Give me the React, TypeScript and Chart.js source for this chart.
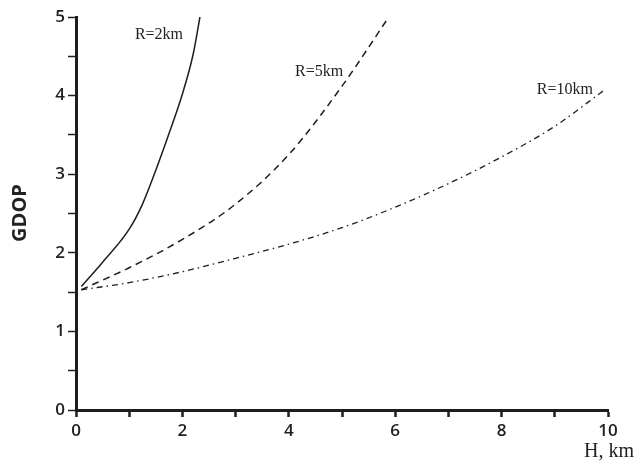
import React, { useEffect, useRef } from "react";
import { Chart, registerables } from "chart.js";

Chart.register(...registerables);

// R = 2 km (solid)
const h2 = [0.1, 0.5, 1.0, 1.25, 1.5, 1.75, 2.0, 2.2, 2.33];
const g2 = [1.57, 1.88, 2.3, 2.62, 3.05, 3.52, 4.02, 4.52, 5.0];
// R = 5 km (dashed)
const h5 = [0.1, 1, 2, 3, 4, 5, 5.88];
const g5 = [1.53, 1.81, 2.17, 2.62, 3.25, 4.12, 5.0];
// R = 10 km (dash-dot)
const h10 = [0.1, 1, 2, 3, 4, 5, 6, 7, 8, 9, 9.93];
const g10 = [1.53, 1.62, 1.76, 1.93, 2.11, 2.32, 2.58, 2.88, 3.22, 3.61, 4.07];

const seriesLabels = ["R=2km", "R=5km", "R=10km"];
const xTitle = "H, km";
const yTitle = "GDOP";

const zip = (xs: number[], ys: number[]) => xs.map((x, i) => ({ x, y: ys[i] }));

const textPlugin = {
  id: "texts",
  afterDraw(chart: any) {
    const ctx = chart.ctx as CanvasRenderingContext2D;
    const xs = chart.scales.x;
    const ys = chart.scales.y;
    ctx.save();
    ctx.fillStyle = "#222";
    // y title
    ctx.font = "bold 20px 'Open Sans'";
    ctx.textAlign = "center";
    ctx.textBaseline = "middle";
    ctx.translate(20, 213);
    ctx.rotate(-Math.PI / 2);
    ctx.fillText(yTitle, 0, 0);
    ctx.setTransform(1, 0, 0, 1, 0, 0);
    // x title
    ctx.font = "20px 'Liberation Serif'";
    ctx.textAlign = "right";
    ctx.textBaseline = "middle";
    ctx.fillText(xTitle, 634, 452);
    // series labels
    ctx.font = "16px 'Liberation Serif'";
    ctx.textAlign = "center";
    const pos = [
      [1.56, 4.77],
      [4.57, 4.3],
      [9.19, 4.08],
    ];
    seriesLabels.forEach((t, i) => {
      ctx.fillText(t, xs.getPixelForValue(pos[i][0]), ys.getPixelForValue(pos[i][1]));
    });
    ctx.restore();
  },
};

export default function App() {
  const ref = useRef<HTMLCanvasElement | null>(null);
  useEffect(() => {
    if (!ref.current) return;
    const col = "#1e1e1e";
    const chart = new Chart(ref.current, {
      type: "line",
      data: {
        datasets: [
          {
            label: seriesLabels[0],
            data: zip(h2, g2),
            borderColor: col,
            borderWidth: 1.5,
            pointRadius: 0,
            cubicInterpolationMode: "monotone",
          },
          {
            label: seriesLabels[1],
            data: zip(h5, g5),
            borderColor: col,
            borderWidth: 1.5,
            borderDash: [7, 5],
            pointRadius: 0,
            cubicInterpolationMode: "monotone",
          },
          {
            label: seriesLabels[2],
            data: zip(h10, g10),
            borderColor: col,
            borderWidth: 1.3,
            borderDash: [6, 4, 1.5, 4],
            pointRadius: 0,
            cubicInterpolationMode: "monotone",
          },
        ],
      },
      options: {
        animation: false,
        responsive: false,
        maintainAspectRatio: false,
        layout: { padding: { top: 17, right: 28, left: 0, bottom: 0 } },
        plugins: { legend: { display: false }, tooltip: { enabled: false } },
        scales: {
          x: {
            type: "linear",
            min: 0,
            max: 10,
            afterFit: (s: any) => {
              s.height = 51;
            },
            border: { display: true, width: 3, color: col },
            grid: { drawOnChartArea: false, drawTicks: true, tickLength: 7, tickWidth: 2.5, tickColor: col },
            ticks: {
              stepSize: 1,
              autoSkip: false,
              maxRotation: 0,
              padding: 4,
              color: "#222",
              font: { family: "'Open Sans'", size: 17, weight: "600" },
              callback: (v: any) => (Number(v) % 2 === 0 ? String(v) : ""),
            },
          },
          y: {
            min: 0,
            max: 5,
            afterFit: (s: any) => {
              s.width = 76;
            },
            border: { display: true, width: 3, color: col },
            grid: { drawOnChartArea: false, drawTicks: true, tickLength: 8, tickWidth: 1.5, tickColor: col },
            ticks: {
              stepSize: 0.5,
              autoSkip: false,
              padding: 3,
              color: "#222",
              font: { family: "'Open Sans'", size: 17, weight: "600" },
              callback: (v: any) => (Number(v) % 1 === 0 ? String(v) : ""),
            },
          },
        },
      },
      plugins: [textPlugin],
    });
    return () => chart.destroy();
  }, []);
  return (
    <div style={{ position: "fixed", left: 0, top: 0, width: 636, height: 461, background: "#fff" }}>
      <canvas ref={ref} width={636} height={461} style={{ width: 636, height: 461 }} />
    </div>
  );
}
